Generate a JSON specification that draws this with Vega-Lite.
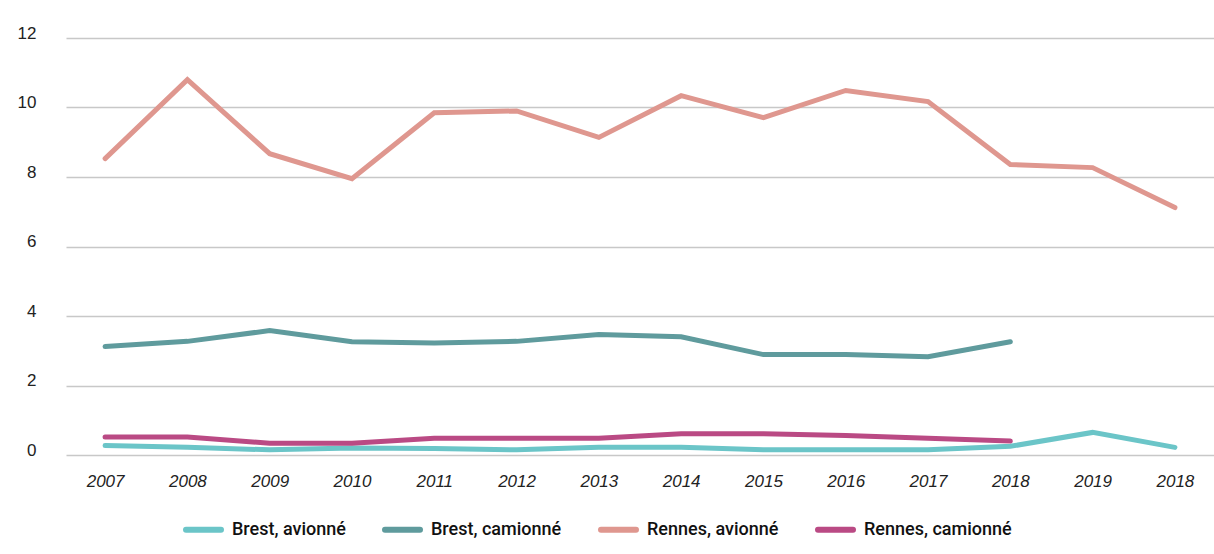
{
  "$schema": "https://vega.github.io/schema/vega-lite/v6.json",
  "width": 1148,
  "height": 417,
  "autosize": {"type": "none"},
  "padding": {"left": 66, "top": 38, "right": 0, "bottom": 99},
  "background": "#ffffff",
  "config": {
    "view": {"stroke": null},
    "font": "Liberation Sans"
  },
  "datasets": {
    "d": [
      {"k": "2007", "s": "Rennes, avionné", "v": 8.53},
      {"k": "2008", "s": "Rennes, avionné", "v": 10.8},
      {"k": "2009", "s": "Rennes, avionné", "v": 8.67},
      {"k": "2010", "s": "Rennes, avionné", "v": 7.95},
      {"k": "2011", "s": "Rennes, avionné", "v": 9.85},
      {"k": "2012", "s": "Rennes, avionné", "v": 9.9},
      {"k": "2013", "s": "Rennes, avionné", "v": 9.14},
      {"k": "2014", "s": "Rennes, avionné", "v": 10.34},
      {"k": "2015", "s": "Rennes, avionné", "v": 9.71},
      {"k": "2016", "s": "Rennes, avionné", "v": 10.49},
      {"k": "2017", "s": "Rennes, avionné", "v": 10.17},
      {"k": "2018", "s": "Rennes, avionné", "v": 8.36},
      {"k": "2019", "s": "Rennes, avionné", "v": 8.27},
      {"k": "2018 ", "s": "Rennes, avionné", "v": 7.12},
      {"k": "2007", "s": "Brest, camionné", "v": 3.12},
      {"k": "2008", "s": "Brest, camionné", "v": 3.27},
      {"k": "2009", "s": "Brest, camionné", "v": 3.58},
      {"k": "2010", "s": "Brest, camionné", "v": 3.26},
      {"k": "2011", "s": "Brest, camionné", "v": 3.22},
      {"k": "2012", "s": "Brest, camionné", "v": 3.27},
      {"k": "2013", "s": "Brest, camionné", "v": 3.47},
      {"k": "2014", "s": "Brest, camionné", "v": 3.4},
      {"k": "2015", "s": "Brest, camionné", "v": 2.89},
      {"k": "2016", "s": "Brest, camionné", "v": 2.89},
      {"k": "2017", "s": "Brest, camionné", "v": 2.83},
      {"k": "2018", "s": "Brest, camionné", "v": 3.26},
      {"k": "2007", "s": "Brest, avionné", "v": 0.27},
      {"k": "2008", "s": "Brest, avionné", "v": 0.22},
      {"k": "2009", "s": "Brest, avionné", "v": 0.15},
      {"k": "2010", "s": "Brest, avionné", "v": 0.2},
      {"k": "2011", "s": "Brest, avionné", "v": 0.19},
      {"k": "2012", "s": "Brest, avionné", "v": 0.15},
      {"k": "2013", "s": "Brest, avionné", "v": 0.22},
      {"k": "2014", "s": "Brest, avionné", "v": 0.22},
      {"k": "2015", "s": "Brest, avionné", "v": 0.15},
      {"k": "2016", "s": "Brest, avionné", "v": 0.15},
      {"k": "2017", "s": "Brest, avionné", "v": 0.15},
      {"k": "2018", "s": "Brest, avionné", "v": 0.25},
      {"k": "2019", "s": "Brest, avionné", "v": 0.65},
      {"k": "2018 ", "s": "Brest, avionné", "v": 0.22},
      {"k": "2007", "s": "Rennes, camionné", "v": 0.52},
      {"k": "2008", "s": "Rennes, camionné", "v": 0.52},
      {"k": "2009", "s": "Rennes, camionné", "v": 0.34},
      {"k": "2010", "s": "Rennes, camionné", "v": 0.34},
      {"k": "2011", "s": "Rennes, camionné", "v": 0.48},
      {"k": "2012", "s": "Rennes, camionné", "v": 0.48},
      {"k": "2013", "s": "Rennes, camionné", "v": 0.48},
      {"k": "2014", "s": "Rennes, camionné", "v": 0.61},
      {"k": "2015", "s": "Rennes, camionné", "v": 0.61},
      {"k": "2016", "s": "Rennes, camionné", "v": 0.56},
      {"k": "2017", "s": "Rennes, camionné", "v": 0.48},
      {"k": "2018", "s": "Rennes, camionné", "v": 0.4}
    ]
  },
  "data": {"name": "d"},
  "mark": {"type": "line", "strokeWidth": 5, "strokeCap": "round", "strokeJoin": "miter"},
  "encoding": {
    "x": {
      "field": "k",
      "type": "ordinal",
      "sort": ["2007", "2008", "2009", "2010", "2011", "2012", "2013", "2014", "2015", "2016", "2017", "2018", "2019", "2018 "],
      "scale": {"type": "point", "padding": 0.475},
      "axis": {
        "title": null,
        "domain": false,
        "ticks": false,
        "grid": false,
        "labelAngle": 0,
        "labelExpr": "trim(datum.label)",
        "labelFont": "Liberation Sans",
        "labelFontStyle": "italic",
        "labelFontSize": 17,
        "labelColor": "#222222",
        "labelPadding": 18,
        "labelBaseline": "top"
      }
    },
    "y": {
      "field": "v",
      "type": "quantitative",
      "scale": {"domain": [0, 12], "nice": false, "zero": true},
      "axis": {
        "title": null,
        "domain": false,
        "ticks": false,
        "values": [0, 2, 4, 6, 8, 10, 12],
        "grid": true,
        "gridColor": "#c8c8c8",
        "gridWidth": 1.5,
        "labelFont": "Liberation Sans",
        "labelFontSize": 17,
        "labelColor": "#222222",
        "labelPadding": 30,
        "labelBaseline": "alphabetic"
      }
    },
    "color": {
      "field": "s",
      "type": "nominal",
      "scale": {
        "domain": ["Brest, avionné", "Brest, camionné", "Rennes, avionné", "Rennes, camionné"],
        "range": ["#6bc5c8", "#5f9b9d", "#df978f", "#ba4a84"]
      },
      "legend": {
        "title": null,
        "orient": "none",
        "direction": "horizontal",
        "legendX": 117,
        "legendY": 471,
        "symbolType": "stroke",
        "symbolSize": 1225,
        "symbolStrokeWidth": 6,
        "labelFont": "Roboto",
        "labelFontWeight": 500,
        "labelFontSize": 18,
        "labelColor": "#111111",
        "labelOffset": 8,
        "columnPadding": 27,
        "labelLimit": 300,
        "encode": {"symbols": {"update": {"strokeCap": {"value": "round"}}}}
      }
    }
  }
}
